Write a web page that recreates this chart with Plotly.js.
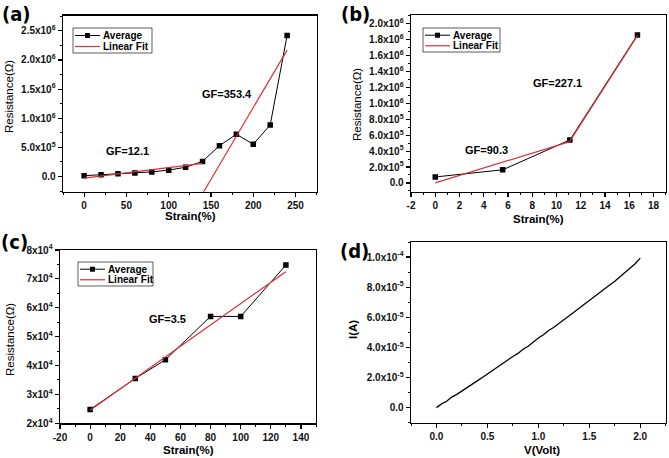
<!DOCTYPE html>
<html>
<head>
<meta charset="utf-8">
<script src="https://cdn.plot.ly/plotly-3.0.1.min.js"></script>
<style>
  html, body { margin: 0; padding: 0; background: #fff; }
  #chart { width: 669px; height: 458px; }
</style>
</head>
<body>
<div id="chart"></div>
<script>
// (a) strain sweep 0-240 %
const strainA = [0, 20, 40, 60, 80, 100, 120, 140, 160, 180, 200, 220, 240];
const resA = [1.5e4, 3e4, 5e4, 6e4, 8e4, 1.1e5, 1.6e5, 2.6e5, 5.3e5, 7.25e5, 5.55e5, 8.85e5, 2.42e6];
const fitA1x = [0, 140];
const fitA1y = [-2.7e4, 2.25e5];
const fitA2x = [140, 240];
const fitA2y = [-2.94e5, 2.17e6];

// (b) strain sweep 0-16.7 %
const strainB = [0, 5.56, 11.1, 16.67];
const resB = [7.5e4, 1.65e5, 5.4e5, 1.86e6];
const fitB1x = [0, 11.1];
const fitB1y = [0, 5.2e5];
const fitB2x = [11.1, 16.67];
const fitB2y = [5.25e5, 1.85e6];

// (c) strain sweep 0-130 %
const strainC = [0, 30, 50, 80, 100, 130];
const resC = [2.48e4, 3.55e4, 4.2e4, 5.7e4, 5.7e4, 7.48e4];
const fitCx = [0, 130];
const fitCy = [2.45e4, 7.25e4];

// (d) I-V curve
const voltD = [0, 0.05, 0.1, 0.15, 0.2, 0.25, 0.3, 0.35, 0.4, 0.45, 0.5, 0.55, 0.6, 0.65, 0.7,
    0.75, 0.8, 0.85, 0.9, 0.95, 1.0, 1.05, 1.1, 1.15, 1.2, 1.25, 1.3, 1.35, 1.4, 1.45, 1.5,
    1.55, 1.6, 1.65, 1.7, 1.75, 1.8, 1.85, 1.9, 1.95, 2.0];
const currD = [0, 0.25e-5, 0.42e-5, 0.7e-5, 0.88e-5, 1.12e-5, 1.32e-5, 1.6e-5, 1.78e-5, 2.0e-5,
    2.24e-5, 2.48e-5, 2.68e-5, 2.95e-5, 3.14e-5, 3.4e-5, 3.6e-5, 3.88e-5, 4.08e-5, 4.36e-5,
    4.62e-5, 4.84e-5, 5.12e-5, 5.32e-5, 5.6e-5, 5.84e-5, 6.08e-5, 6.33e-5, 6.6e-5, 6.84e-5,
    7.12e-5, 7.36e-5, 7.62e-5, 7.88e-5, 8.14e-5, 8.4e-5, 8.68e-5, 8.94e-5, 9.24e-5, 9.56e-5, 9.93e-5];

// tick values
const yTicksA = [0, 5e5, 1e6, 1.5e6, 2e6, 2.5e6];
const xTicksA = [0, 50, 100, 150, 200, 250];
const yTicksB = [0, 2e5, 4e5, 6e5, 8e5, 1e6, 1.2e6, 1.4e6, 1.6e6, 1.8e6, 2e6];
const xTicksB = [-2, 0, 2, 4, 6, 8, 10, 12, 14, 16, 18];
const yTicksC = [2e4, 3e4, 4e4, 5e4, 6e4, 7e4, 8e4];
const xTicksC = [-20, 0, 20, 40, 60, 80, 100, 120, 140];
const yTicksD = [0, 2e-5, 4e-5, 6e-5, 8e-5, 1e-4];
const xTicksD = [0, 0.5, 1.0, 1.5, 2.0];

const W = 669, H = 458;
const FONT = 'Liberation Sans, Arial, sans-serif';
const PANEL = 'Liberation Sans Narrow, DejaVu Sans Condensed, Arial Narrow, sans-serif';
const RED = '#d9303c';
const px = x => x / W;
const py = y => 1 - y / H;

function sci(v, digits) {
    if (v === 0) return '0.0';
    const exp = Math.floor(Math.log10(Math.abs(v)) + 1e-9);
    const mant = v / Math.pow(10, exp);
    return mant.toFixed(digits) + 'x10<sup>' + exp + '</sup>';
}

function axis(domain, range, ticks, minor, anchor, fmt) {
    return {
        domain: domain, range: range, anchor: anchor,
        tickmode: 'array', tickvals: ticks, ticktext: ticks.map(v => '<b>' + fmt(v) + '</b>'),
        ticks: 'outside', ticklen: 4, tickwidth: 1.2, tickcolor: '#000',
        minor: { dtick: minor, ticks: 'outside', ticklen: 2, tickwidth: 1, tickcolor: '#000' },
        showline: true, linecolor: '#000', linewidth: 1.4, mirror: true,
        showgrid: false, zeroline: false,
        tickfont: { family: FONT, size: 10, color: '#111' },
    };
}

function series(x, y, xa, ya) {
    return {
        x: x, y: y, xaxis: xa, yaxis: ya, type: 'scatter', mode: 'lines+markers',
        line: { color: '#000', width: 1 },
        marker: { symbol: 'square', size: 5.5, color: '#000' },
        showlegend: false,
    };
}

function fit(x, y, xa, ya) {
    return {
        x: x, y: y, xaxis: xa, yaxis: ya, type: 'scatter', mode: 'lines',
        line: { color: RED, width: 1.2 },
        showlegend: false,
    };
}

const shapes = [];
const annotations = [];

// small boxed legend drawn in page pixels
function legendBox(x0, y0, x1, y1) {
    shapes.push({ type: 'rect', xref: 'paper', yref: 'paper',
        x0: px(x0), x1: px(x1), y0: py(y0), y1: py(y1),
        line: { color: '#333', width: 0.8 }, fillcolor: '#fff', layer: 'above' });
    const r1 = y0 + (y1 - y0) * 0.3, r2 = y0 + (y1 - y0) * 0.74;
    shapes.push({ type: 'line', xref: 'paper', yref: 'paper',
        x0: px(x0 + 2), x1: px(x0 + 27), y0: py(r1), y1: py(r1),
        line: { color: '#000', width: 1 }, layer: 'above' });
    shapes.push({ type: 'rect', xref: 'paper', yref: 'paper',
        x0: px(x0 + 12), x1: px(x0 + 17), y0: py(r1 - 2.5), y1: py(r1 + 2.5),
        line: { width: 0 }, fillcolor: '#000', layer: 'above' });
    shapes.push({ type: 'line', xref: 'paper', yref: 'paper',
        x0: px(x0 + 2), x1: px(x0 + 27), y0: py(r2), y1: py(r2),
        line: { color: RED, width: 1.2 }, layer: 'above' });
    for (const [txt, r] of [['Average', r1], ['Linear Fit', r2]]) {
        annotations.push({ text: '<b>' + txt + '</b>', xref: 'paper', yref: 'paper', x: px(x0 + 28), y: py(r),
            xanchor: 'left', yanchor: 'middle', showarrow: false,
            font: { family: FONT, size: 10, color: '#000' } });
    }
}

function label(text, x, y, size, opts) {
    opts = opts || {};
    annotations.push({ text: opts.normal ? text : '<b>' + text + '</b>', xref: 'paper', yref: 'paper',
        x: px(x), y: py(y), xanchor: 'center', yanchor: 'middle', showarrow: false,
        textangle: opts.angle || 0,
        font: { family: opts.family || FONT, size: size, color: '#000' } });
}

legendBox(73, 28, 152, 53);
legendBox(423, 28, 500, 52);
legendBox(78, 262, 153, 286);

label('(a)', 16, 14, 20, { family: PANEL });
label('(b)', 355, 14, 20, { family: PANEL });
label('(c)', 14, 242, 20, { family: PANEL });
label('(d)', 354, 251, 20, { family: PANEL });

label('GF=12.1', 127, 151, 11);
label('GF=353.4', 227, 94, 11);
label('GF=90.3', 487, 150, 11);
label('GF=227.1', 557, 83, 11);
label('GF=3.5', 167, 319, 11);

// axis titles
label('Strain(%)', 190, 216, 11.5);
label('Strain(%)', 538, 219, 11.5);
label('Strain(%)', 188, 450, 11.5);
label('V(Volt)', 542, 450, 11.5);
label('Resistance(Ω)', 9, 97, 11.5, { angle: -90, normal: true });
label('Resistance(Ω)', 357, 105, 11.5, { angle: -90, normal: true });
label('Resistance(Ω)', 10, 340, 11.5, { angle: -90, normal: true });
label('I(A)', 353, 330, 11.5, { angle: -90 });

const f1 = v => (v === 0 ? '0.0' : sci(v, 1));
const f0 = v => sci(v, 0);
const plain = v => String(v);
const one = v => v.toFixed(1);

const data = [
    series(strainA, resA, 'x', 'y'),
    fit(fitA1x, fitA1y, 'x', 'y'),
    fit(fitA2x, fitA2y, 'x', 'y'),
    series(strainB, resB, 'x2', 'y2'),
    fit(fitB1x, fitB1y, 'x2', 'y2'),
    fit(fitB2x, fitB2y, 'x2', 'y2'),
    series(strainC, resC, 'x3', 'y3'),
    fit(fitCx, fitCy, 'x3', 'y3'),
    { x: voltD, y: currD, xaxis: 'x4', yaxis: 'y4', type: 'scatter', mode: 'lines',
      line: { color: '#000', width: 1.3 }, showlegend: false },
];

const layout = {
    width: W, height: H,
    margin: { l: 0, r: 0, t: 0, b: 0 },
    paper_bgcolor: '#fff', plot_bgcolor: '#fff',
    showlegend: false,
    xaxis: axis([px(63), px(316.7)], [-25, 275], xTicksA, 25, 'y', plain),
    yaxis: axis([py(191.7), py(15.7)], [-2.6e5, 2.76e6], yTicksA, 2.5e5, 'x', f1),
    xaxis2: axis([px(411), px(665.7)], [-2, 19], xTicksB, 1, 'y2', plain),
    yaxis2: axis([py(191.7), py(15)], [-1.1e5, 2.11e6], yTicksB, 1e5, 'x2', f1),
    xaxis3: axis([px(60), px(316)], [-20, 150], xTicksC, 10, 'y3', plain),
    yaxis3: axis([py(423.3), py(250)], [2e4, 8e4], yTicksC, 5e3, 'x3', f0),
    xaxis4: axis([px(411), px(665.7)], [-0.25, 2.25], xTicksD, 0.25, 'y4', one),
    yaxis4: axis([py(422.7), py(242)], [-1e-5, 1.1e-4], yTicksD, 1e-5, 'x4', f1),
    shapes: shapes,
    annotations: annotations,
};

Plotly.newPlot('chart', data, layout, { staticPlot: true, displayModeBar: false });
</script>
</body>
</html>
